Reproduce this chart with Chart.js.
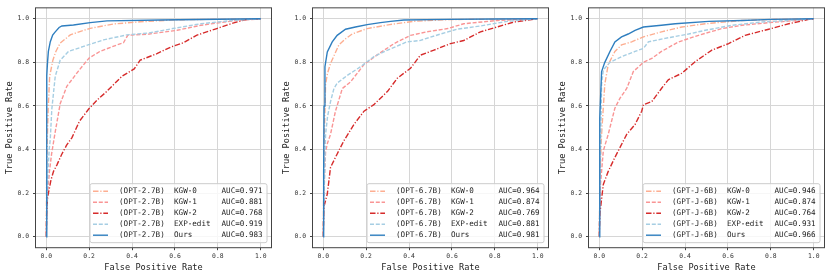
<!DOCTYPE html>
<html>
<head>
<meta charset="utf-8">
<script src="https://cdn.jsdelivr.net/npm/chart.js@4.4.1/dist/chart.umd.min.js"></script>
<style>
  html, body { margin: 0; padding: 0; background: #fff; }
  #wrap { position: relative; width: 830px; height: 278px; }
  .panel { position: absolute; top: 0; width: 276px; height: 278px; }
</style>
</head>
<body>
<div id="wrap">
  <div class="panel" style="left:0px"><canvas id="c0" width="276" height="278"></canvas></div>
  <div class="panel" style="left:277px"><canvas id="c1" width="276" height="278"></canvas></div>
  <div class="panel" style="left:553px"><canvas id="c2" width="276" height="278"></canvas></div>
</div>
<script>
// models, methods, tick labels
const models = ['(OPT-2.7B)', '(OPT-6.7B)', '(GPT-J-6B)'];
const methods = ['KGW-0', 'KGW-1', 'KGW-2', 'EXP-edit', 'Ours'];
const tickVals = [0, 0.2, 0.4, 0.6, 0.8, 1.0];

const aucOpt27 = ['0.971', '0.881', '0.768', '0.919', '0.983'];
const aucOpt67 = ['0.964', '0.874', '0.769', '0.881', '0.981'];
const aucGptj = ['0.946', '0.874', '0.764', '0.931', '0.966'];

// OPT-2.7B
const opt27Kgw0Fpr = [0, 0.002, 0.005, 0.009, 0.016, 0.031, 0.045, 0.065, 0.112, 0.16, 0.205, 0.313, 0.438, 0.6, 0.8, 1];
const opt27Kgw0Tpr = [0, 0.3, 0.45, 0.585, 0.736, 0.81, 0.85, 0.888, 0.926, 0.942, 0.956, 0.976, 0.986, 0.995, 0.998, 1];
const opt27Kgw1Fpr = [0, 0.003, 0.008, 0.015, 0.025, 0.04, 0.065, 0.096, 0.15, 0.2, 0.25, 0.33, 0.36, 0.38, 0.48, 0.61, 0.72, 0.87, 1];
const opt27Kgw1Tpr = [0, 0.12, 0.22, 0.3, 0.38, 0.47, 0.61, 0.69, 0.76, 0.82, 0.85, 0.88, 0.89, 0.924, 0.93, 0.947, 0.97, 0.99, 1];
const opt27Kgw2Fpr = [0, 0.002, 0.006, 0.022, 0.034, 0.05, 0.073, 0.095, 0.12, 0.155, 0.197, 0.24, 0.275, 0.353, 0.41, 0.438, 0.516, 0.58, 0.64, 0.7, 0.795, 0.87, 0.935, 1];
const opt27Kgw2Tpr = [0, 0.1, 0.18, 0.26, 0.3, 0.33, 0.38, 0.42, 0.455, 0.53, 0.585, 0.63, 0.66, 0.736, 0.77, 0.81, 0.84, 0.87, 0.89, 0.924, 0.955, 0.98, 0.997, 1];
const opt27ExpFpr = [0, 0.003, 0.008, 0.014, 0.019, 0.026, 0.042, 0.065, 0.104, 0.174, 0.267, 0.376, 0.48, 0.59, 0.72, 0.87, 1];
const opt27ExpTpr = [0, 0.15, 0.3, 0.4, 0.45, 0.585, 0.736, 0.81, 0.85, 0.873, 0.903, 0.926, 0.935, 0.955, 0.977, 0.992, 1];
const opt27OursFpr = [0, 0.002, 0.003, 0.006, 0.01, 0.019, 0.03, 0.042, 0.06, 0.073, 0.127, 0.205, 0.283, 0.53, 0.8, 1];
const opt27OursTpr = [0, 0.4, 0.74, 0.8, 0.85, 0.895, 0.925, 0.94, 0.96, 0.967, 0.971, 0.982, 0.99, 0.994, 0.998, 1];

// OPT-6.7B
const opt67Kgw0Fpr = [0, 0.002, 0.005, 0.011, 0.02, 0.034, 0.05, 0.073, 0.1, 0.135, 0.205, 0.31, 0.42, 0.58, 0.8, 1];
const opt67Kgw0Tpr = [0, 0.2, 0.45, 0.7, 0.75, 0.795, 0.83, 0.88, 0.905, 0.93, 0.955, 0.973, 0.988, 0.996, 0.999, 1];
const opt67Kgw1Fpr = [0, 0.003, 0.006, 0.011, 0.02, 0.034, 0.057, 0.089, 0.127, 0.19, 0.25, 0.33, 0.407, 0.484, 0.58, 0.655, 0.81, 1];
const opt67Kgw1Tpr = [0, 0.15, 0.28, 0.39, 0.43, 0.47, 0.576, 0.68, 0.71, 0.79, 0.833, 0.886, 0.924, 0.94, 0.955, 0.977, 0.992, 1];
const opt67Kgw2Fpr = [0, 0.003, 0.019, 0.034, 0.065, 0.096, 0.143, 0.19, 0.236, 0.3, 0.345, 0.407, 0.453, 0.516, 0.593, 0.655, 0.733, 0.81, 0.888, 1];
const opt67Kgw2Tpr = [0, 0.136, 0.197, 0.318, 0.38, 0.44, 0.515, 0.576, 0.606, 0.667, 0.727, 0.773, 0.833, 0.856, 0.886, 0.9, 0.94, 0.962, 0.985, 1];
const opt67ExpFpr = [0, 0.003, 0.007, 0.011, 0.02, 0.034, 0.05, 0.065, 0.112, 0.174, 0.236, 0.3, 0.39, 0.45, 0.547, 0.624, 0.733, 0.857, 1];
const opt67ExpTpr = [0, 0.15, 0.32, 0.47, 0.55, 0.62, 0.68, 0.705, 0.74, 0.78, 0.826, 0.856, 0.894, 0.9, 0.93, 0.952, 0.967, 0.988, 1];
const opt67OursFpr = [0, 0.002, 0.004, 0.008, 0.019, 0.042, 0.065, 0.104, 0.15, 0.205, 0.267, 0.314, 0.376, 0.58, 0.8, 1];
const opt67OursTpr = [0, 0.3, 0.6, 0.78, 0.848, 0.894, 0.924, 0.952, 0.962, 0.973, 0.982, 0.988, 0.994, 0.997, 0.999, 1];

// GPT-J-6B
const gptjKgw0Fpr = [0, 0.003, 0.006, 0.011, 0.026, 0.042, 0.073, 0.104, 0.151, 0.206, 0.29, 0.385, 0.494, 0.665, 0.85, 1];
const gptjKgw0Tpr = [0, 0.2, 0.35, 0.47, 0.7, 0.79, 0.85, 0.88, 0.894, 0.917, 0.94, 0.962, 0.977, 0.992, 0.998, 1];
const gptjKgw1Fpr = [0, 0.002, 0.006, 0.019, 0.042, 0.073, 0.097, 0.128, 0.159, 0.206, 0.245, 0.29, 0.37, 0.463, 0.572, 0.665, 0.79, 0.914, 1];
const gptjKgw1Tpr = [0, 0.1, 0.242, 0.394, 0.47, 0.59, 0.636, 0.68, 0.758, 0.8, 0.818, 0.85, 0.894, 0.924, 0.955, 0.97, 0.982, 0.992, 1];
const gptjKgw2Fpr = [0, 0.003, 0.019, 0.042, 0.073, 0.097, 0.128, 0.167, 0.198, 0.206, 0.245, 0.29, 0.322, 0.385, 0.447, 0.525, 0.603, 0.68, 0.79, 0.883, 0.977, 1];
const gptjKgw2Tpr = [0, 0.106, 0.24, 0.3, 0.364, 0.41, 0.47, 0.515, 0.576, 0.606, 0.62, 0.68, 0.72, 0.75, 0.803, 0.856, 0.886, 0.924, 0.952, 0.977, 0.997, 1];
const gptjExpFpr = [0, 0.003, 0.007, 0.011, 0.019, 0.05, 0.104, 0.167, 0.206, 0.229, 0.307, 0.416, 0.494, 0.618, 0.758, 0.883, 1];
const gptjExpTpr = [0, 0.2, 0.45, 0.7, 0.765, 0.8, 0.826, 0.85, 0.864, 0.894, 0.91, 0.93, 0.947, 0.97, 0.985, 0.992, 1];
const gptjOursFpr = [0, 0.002, 0.003, 0.011, 0.026, 0.05, 0.073, 0.104, 0.135, 0.167, 0.206, 0.29, 0.354, 0.51, 0.665, 0.805, 1];
const gptjOursTpr = [0, 0.3, 0.545, 0.758, 0.8, 0.85, 0.894, 0.917, 0.93, 0.947, 0.962, 0.97, 0.977, 0.988, 0.992, 0.997, 1];

const mono = 'DejaVu Sans Mono';
const colors = ['#fdae91', '#f99595', '#d62b2b', '#a6cee3', '#2e7ebf'];
const dashed = [4, 1.8];
const dashdot = [5.5, 1.8, 1.2, 1.8];
const dashes = [dashdot, dashed, dashdot, dashed, []];

const panels = [
    { model: models[0], auc: aucOpt27, curves: [
        [opt27Kgw0Fpr, opt27Kgw0Tpr], [opt27Kgw1Fpr, opt27Kgw1Tpr], [opt27Kgw2Fpr, opt27Kgw2Tpr],
        [opt27ExpFpr, opt27ExpTpr], [opt27OursFpr, opt27OursTpr]] },
    { model: models[1], auc: aucOpt67, curves: [
        [opt67Kgw0Fpr, opt67Kgw0Tpr], [opt67Kgw1Fpr, opt67Kgw1Tpr], [opt67Kgw2Fpr, opt67Kgw2Tpr],
        [opt67ExpFpr, opt67ExpTpr], [opt67OursFpr, opt67OursTpr]] },
    { model: models[2], auc: aucGptj, curves: [
        [gptjKgw0Fpr, gptjKgw0Tpr], [gptjKgw1Fpr, gptjKgw1Tpr], [gptjKgw2Fpr, gptjKgw2Tpr],
        [gptjExpFpr, gptjExpTpr], [gptjOursFpr, gptjOursTpr]] }
];

// рамка вокруг области графика
const framePlugin = {
    id: 'frame',
    afterDatasetsDraw(chart) {
        const a = chart.chartArea;
        const ctx = chart.ctx;
        ctx.save();
        ctx.strokeStyle = '#444';
        ctx.lineWidth = 1;
        ctx.strokeRect(a.left, a.top, a.right - a.left, a.bottom - a.top);
        ctx.restore();
    }
};

// легенда внутри области, снизу справа
const rocLegend = {
    id: 'rocLegend',
    afterDraw(chart, args, opts) {
        const a = chart.chartArea;
        const ctx = chart.ctx;
        const w = 177, h = 59;
        const x0 = a.right - 4.5 - w;
        const y0 = a.bottom - 5 - h;
        ctx.save();
        ctx.beginPath();
        ctx.roundRect(x0, y0, w, h, 2);
        ctx.fillStyle = 'rgba(255,255,255,0.8)';
        ctx.fill();
        ctx.strokeStyle = '#cccccc';
        ctx.lineWidth = 1;
        ctx.stroke();
        ctx.font = '7.6px "' + mono + '"';
        ctx.textBaseline = 'middle';
        ctx.textAlign = 'left';
        for (let i = 0; i < methods.length; i++) {
            const y = y0 + 7.5 + i * 11;
            ctx.beginPath();
            ctx.setLineDash(dashes[i]);
            ctx.strokeStyle = colors[i];
            ctx.lineWidth = 1.4;
            ctx.moveTo(x0 + 3, y);
            ctx.lineTo(x0 + 18, y);
            ctx.stroke();
            ctx.setLineDash([]);
            ctx.fillStyle = '#222';
            ctx.fillText(opts.model, x0 + 29, y);
            ctx.fillText(methods[i], x0 + 84, y);
            ctx.fillText('AUC=' + opts.auc[i], x0 + 131.5, y);
        }
        ctx.restore();
    }
};

function makeChart(id, panel) {
    const datasets = panel.curves.map((c, i) => ({
        label: methods[i],
        data: c[0].map((x, k) => ({ x: x, y: c[1][k] })),
        borderColor: colors[i],
        borderWidth: 1.4,
        borderDash: dashes[i],
        pointRadius: 0,
        tension: 0,
        fill: false,
        order: methods.length - i
    }));

    const gridOpts = { color: '#d6d6d6', lineWidth: 1, tickLength: 2.5, tickColor: '#444', drawTicks: true };

    new Chart(document.getElementById(id).getContext('2d'), {
        type: 'line',
        data: { datasets: datasets },
        options: {
            responsive: false,
            animation: false,
            layout: { padding: { top: 5.7, right: 4.5, left: 0, bottom: 0 } },
            scales: {
                x: {
                    type: 'linear', min: -0.05, max: 1.05,
                    afterBuildTicks: s => { s.ticks = tickVals.map(v => ({ value: v })); },
                    afterFit: s => { s.height = 30.3; },
                    grid: gridOpts,
                    border: { display: false },
                    ticks: { font: { family: mono, size: 6.4 }, color: '#333', padding: 2.5, maxRotation: 0, autoSkip: false,
                        callback: v => v.toFixed(1) },
                    title: { display: true, text: 'False Positive Rate', color: '#222',
                        font: { family: mono, size: 8.6 }, padding: { top: 0, bottom: 5 } }
                },
                y: {
                    type: 'linear', min: -0.05, max: 1.05,
                    afterBuildTicks: s => { s.ticks = tickVals.map(v => ({ value: v })); },
                    afterFit: s => { s.width = 35.5; },
                    grid: gridOpts,
                    border: { display: false },
                    ticks: { font: { family: mono, size: 6.4 }, color: '#333', padding: 4, autoSkip: false,
                        callback: v => v.toFixed(1) },
                    title: { display: true, text: 'True Positive Rate', color: '#222',
                        font: { family: mono, size: 8.6 }, padding: { top: 4.8, bottom: 0 } }
                }
            },
            plugins: {
                legend: { display: false },
                tooltip: { enabled: false },
                rocLegend: { model: panel.model, auc: panel.auc }
            }
        },
        plugins: [framePlugin, rocLegend]
    });
}

makeChart('c0', panels[0]);
makeChart('c1', panels[1]);
makeChart('c2', panels[2]);
</script>
</body>
</html>
